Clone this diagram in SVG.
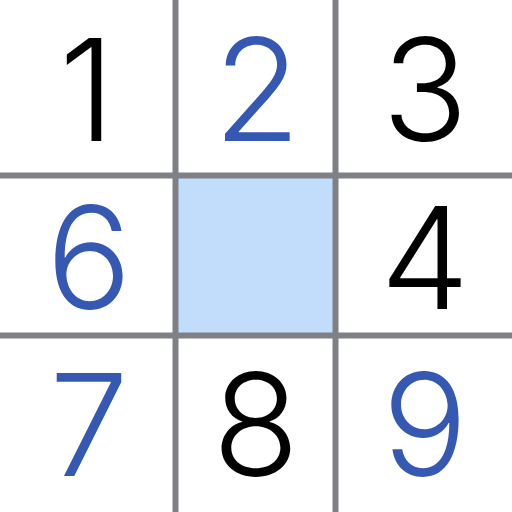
<svg xmlns="http://www.w3.org/2000/svg" width="512" height="512" viewBox="0 0 512 512">
<style>
.d{font-family:Inter,"Liberation Sans",sans-serif;font-weight:300;font-size:142px;text-anchor:middle}
.k{fill:#000}
.b{fill:#3559b3}
.g{stroke:#7f8086;stroke-width:6}
</style>
<rect width="512" height="512" fill="#fff"/>
<g id="center-cell"><rect x="175.5" y="175.5" width="160" height="160" fill="#c2dcfc"/></g>
<g id="grid" class="g">
<line x1="175.5" y1="0" x2="175.5" y2="512"/>
<line x1="335.5" y1="0" x2="335.5" y2="512"/>
<line x1="0" y1="175.5" x2="512" y2="175.5"/>
<line x1="0" y1="335.5" x2="512" y2="335.5"/>
</g>
<g id="n1"><text class="d k" x="87" y="141">1</text></g>
<g id="n2"><text class="d b" x="257" y="141">2</text></g>
<g id="n3"><text class="d k" x="425" y="141">3</text></g>
<g id="n6"><text class="d b" x="89" y="309">6</text></g>
<g id="n4"><text class="d k" x="425" y="309">4</text></g>
<g id="n7"><text class="d b" x="89" y="476">7</text></g>
<g id="n8"><text class="d k" x="256" y="476">8</text></g>
<g id="n9"><text class="d b" x="425" y="476">9</text></g>
</svg>
